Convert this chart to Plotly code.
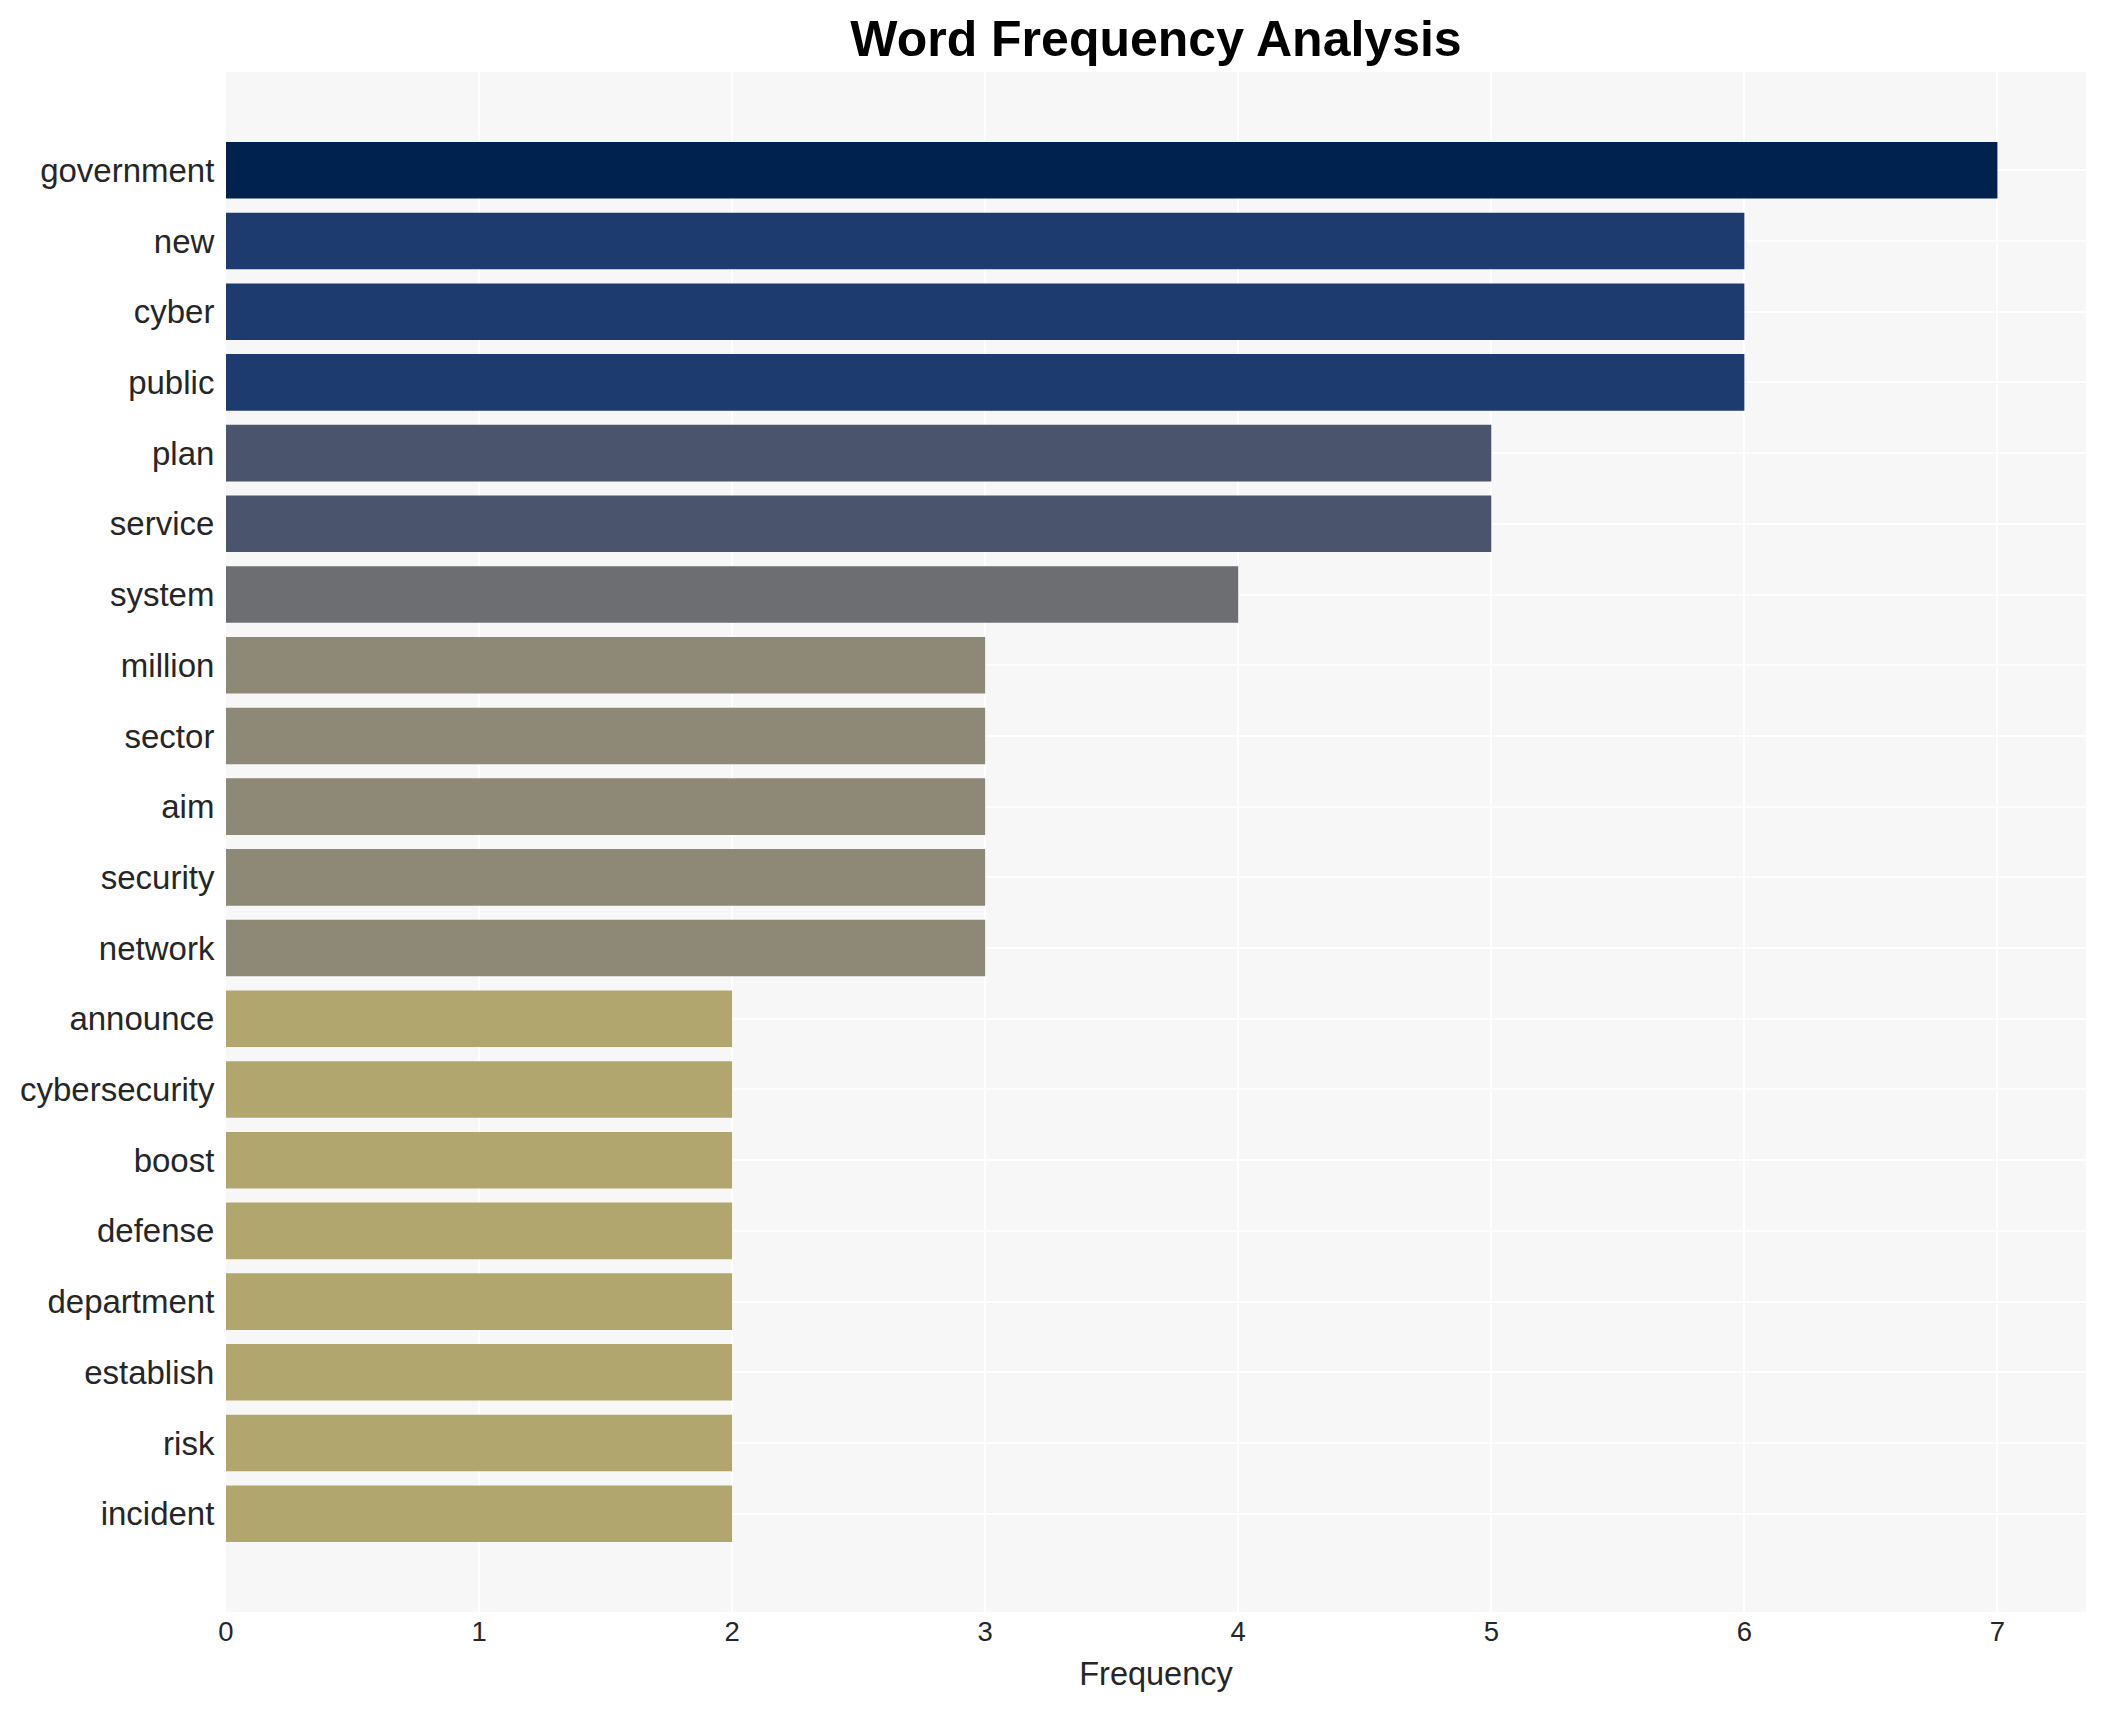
import plotly.graph_objects as go

words = ["government", "new", "cyber", "public", "plan", "service", "system",
         "million", "sector", "aim", "security", "network", "announce",
         "cybersecurity", "boost", "defense", "department", "establish",
         "risk", "incident"]
counts = [7, 6, 6, 6, 5, 5, 4, 3, 3, 3, 3, 3, 2, 2, 2, 2, 2, 2, 2, 2]

FONT = "Liberation Sans, Arial, sans-serif"

fig = go.Figure(
    go.Bar(
        x=counts,
        y=words,
        orientation="h",
        marker=dict(color=counts, colorscale="cividis", reversescale=True,
                    cmin=0, cmax=7, line=dict(width=0)),
        showlegend=False,
    )
)

fig.update_layout(
    width=2105,
    height=1710,
    margin=dict(l=218, r=27, t=64, b=106),
    paper_bgcolor="white",
    plot_bgcolor="#f7f7f7",
    bargap=0.2,
    font=dict(family=FONT, color="#262626", size=32),
    title=dict(
        text="<b>Word Frequency Analysis</b>",
        font=dict(family=FONT, size=50, color="black"),
        x=0.5, xref="paper", xanchor="center",
        y=1 - 30 / 1710, yref="container", yanchor="middle",
    ),
    xaxis=dict(
        title=dict(text="Frequency", font=dict(size=32.5), standoff=16),
        tickfont=dict(size=27.5),
        range=[0, 7.35],
        showgrid=True, gridcolor="white", gridwidth=2,
        zeroline=False, tick0=0, dtick=1,
    ),
    yaxis=dict(
        type="category",
        range=[20.39, -1.39],
        tickfont=dict(size=33),
        showgrid=True, gridcolor="white", gridwidth=2,
        ticks="outside", ticklen=4, tickcolor="rgba(0,0,0,0)",
    ),
)

fig.write_html("out.html")
